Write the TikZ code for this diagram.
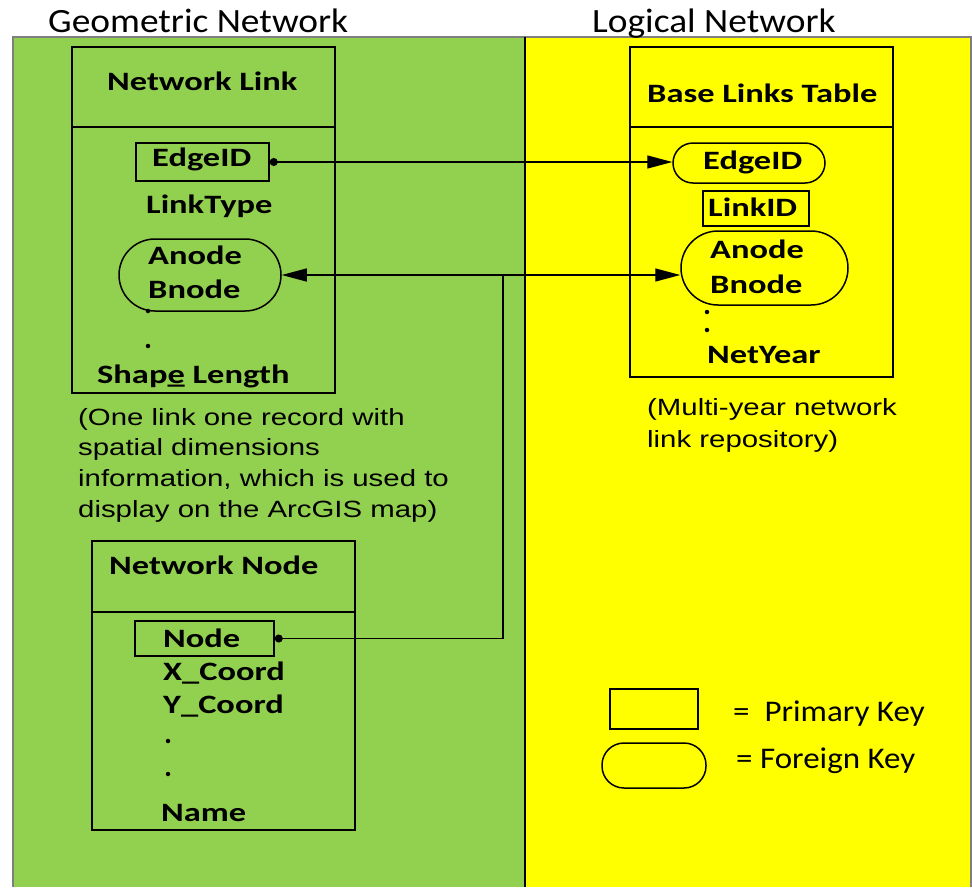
\documentclass[tikz,border=0pt]{standalone}
\usepackage{fontspec}
\setmainfont{Carlito}
\newfontfamily\regfont[FakeStretch=1.1]{Carlito}
\newfontfamily\tblfont[FakeStretch=1.3]{Carlito}
\newfontfamily\capfont[FakeStretch=1.25]{Liberation Sans}
\usetikzlibrary{arrows.meta}
\definecolor{lgreen}{HTML}{92D050}
\definecolor{lyellow}{HTML}{FFFF00}
\definecolor{bordergray}{HTML}{7F7F7F}
\begin{document}
\begin{tikzpicture}[x=1pt,y=-1pt,
  tbl/.style={draw, line width=1.7pt, inner sep=0pt, rectangle},
  pk/.style={draw, line width=1.5pt, inner sep=0pt, rectangle},
  fk/.style={draw, line width=1.5pt, inner sep=0pt, rectangle},
  ttl/.style={font=\regfont\fontsize{34}{38}\selectfont, inner sep=0pt, anchor=base west},
  ftxt/.style={font=\tblfont\bfseries\fontsize{26.5}{30}\selectfont, inner sep=0pt, anchor=base west},
  captxt/.style={font=\capfont\fontsize{23.5}{30.7}\selectfont, inner sep=0pt, anchor=base west},
  leg/.style={font=\regfont\fontsize{30}{34}\selectfont, inner sep=0pt, anchor=base west},
  conn/.style={line width=1.3pt},
  dotmark/.style={fill, circle, inner sep=0pt, minimum size=4.5pt},
]
\useasboundingbox (0,0) rectangle (972,887);
% backgrounds
\fill[lgreen] (13,37) rectangle (525,887);
\fill[lyellow] (525,37) rectangle (971,887);
\draw[bordergray, line width=1.5pt] (13,887) -- (13,37) -- (971,37) -- (971,887);
\draw[line width=1.2pt] (525,37) -- (525,887);

% titles
\node[ttl] (tg) at (48,32) {Geometric Network};
\node[ttl] (tl) at (592,32) {Logical Network};

% Network Link table
\node[tbl, minimum width=263pt, minimum height=346pt] (nl) at (203.5,220) {};
\draw[line width=1.7pt] (nl.west |- 0,127) -- (nl.east |- 0,127);
\node[ftxt] (nlt) at (107,90) {Network Link};
\node[pk, minimum width=133pt, minimum height=38pt] (e1) at (202.5,162) {};
\node[ftxt] (e1t) at (152,166) {EdgeID};
\node[ftxt] (lt) at (146,213) {LinkType};
\node[fk, rounded corners=36pt, minimum width=162pt, minimum height=72pt] (ab1) at (200,275) {};
\node[ftxt] (a1) at (148,264) {Anode};
\node[ftxt] (b1) at (148,298) {Bnode};
\node[dotmark] (d1) at (148,311) {};
\node[dotmark] (d2) at (148,346) {};
\node[ftxt] (sl) at (97,383) {Shape\llap{\_}\ Length};

% caption left
\node[captxt] (c1) at (78,425) {(One link one record with};
\node[captxt] (c2) at (78,455) {spatial dimensions};
\node[captxt] (c3) at (78,486) {information, which is used to};
\node[captxt] (c4) at (78,517) {display on the ArcGIS map)};

% Base Links Table
\node[tbl, minimum width=263pt, minimum height=330pt] (bl) at (761.5,212) {};
\draw[line width=1.7pt] (bl.west |- 0,127) -- (bl.east |- 0,127);
\node[ftxt] (blt) at (647,102) {Base Links Table};
\node[fk, rounded corners=20pt, minimum width=152pt, minimum height=40pt] (e2) at (749,163) {};
\node[ftxt] (e2t) at (703,169) {EdgeID};
\node[pk, minimum width=106pt, minimum height=35pt] (lid) at (756,208.5) {};
\node[ftxt] (lidt) at (708,216) {LinkID};
\node[fk, rounded corners=37pt, minimum width=167pt, minimum height=74pt] (ab2) at (764.5,268) {};
\node[ftxt] (a2) at (710,258) {Anode};
\node[ftxt] (b2) at (710,293) {Bnode};
\node[dotmark] (d3) at (707,312) {};
\node[dotmark] (d4) at (707,330) {};
\node[ftxt] (ny) at (707,363) {NetYear};

% caption right
\node[captxt] (c5) at (647,415) {(Multi-year network};
\node[captxt] (c6) at (647,447) {link repository)};

% Network Node table
\node[tbl, minimum width=263pt, minimum height=289pt] (nn) at (223.5,685.5) {};
\draw[line width=1.7pt] (nn.west |- 0,612) -- (nn.east |- 0,612);
\node[ftxt] (nnt) at (109,574) {Network Node};
\node[pk, minimum width=139pt, minimum height=35pt] (nd) at (204.5,638.5) {};
\node[ftxt] (ndt) at (163,647) {Node};
\node[ftxt] (xc) at (163,680) {X\_Coord};
\node[ftxt] (yc) at (163,713) {Y\_Coord};
\node[dotmark] (d5) at (168,741) {};
\node[dotmark] (d6) at (168,774) {};
\node[ftxt] (nm) at (161,821) {Name};

% legend
\node[pk, minimum width=88pt, minimum height=40pt] (lpk) at (654,709) {};
\node[fk, rounded corners=22pt, minimum width=104pt, minimum height=45pt] (lfk) at (654,765.5) {};
\node[leg] (lpkt) at (733,721) {=\ \ Primary Key};
\node[leg] (lfkt) at (736,768) {= Foreign Key};

% connectors
\draw[conn, {Circle[length=8pt]}-{Triangle[length=25pt,width=13pt]}] (e1.east) -- (e2.west |- e1.east);
\draw[conn, {Triangle[length=25pt,width=13pt]}-{Triangle[length=25pt,width=13pt]}] (ab1.east) -- (ab2.west |- ab1.east);
\coordinate (j) at (503,275);
\draw[conn, {Circle[length=8pt]}-] (nd.east) -- (nd.east -| j) -- (j);
\end{tikzpicture}
\end{document}
